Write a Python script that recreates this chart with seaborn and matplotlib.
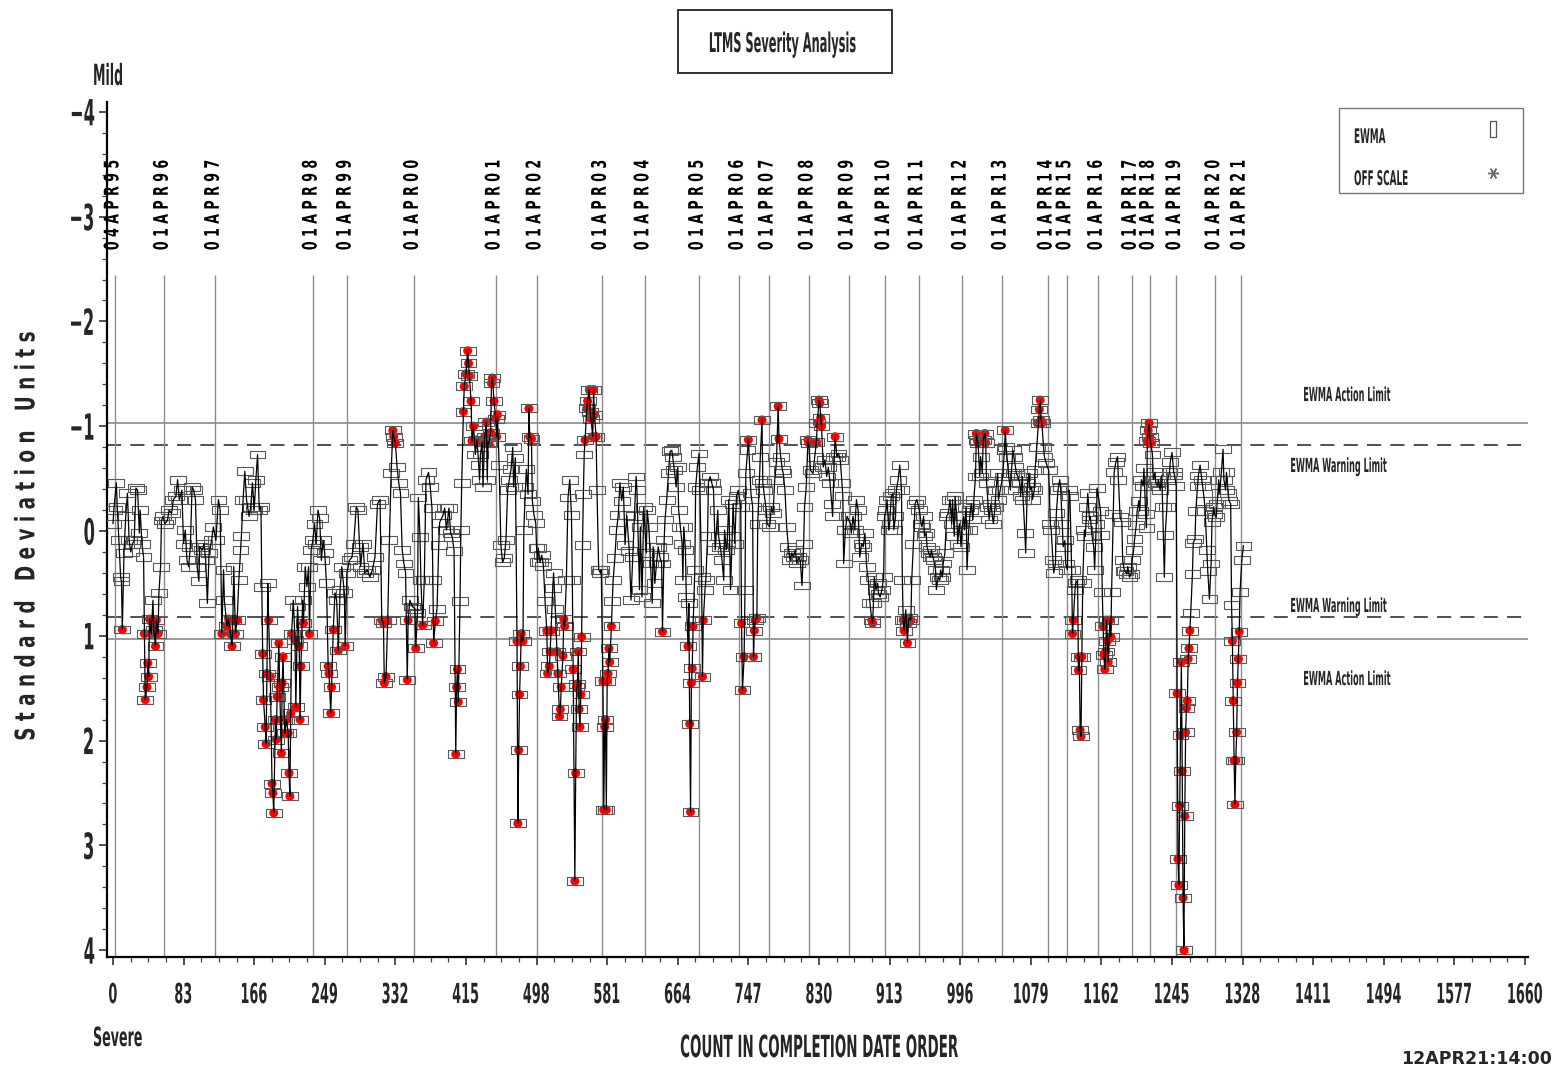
import numpy as np
import pandas as pd
import matplotlib
matplotlib.use("Agg")
import matplotlib.pyplot as plt
import seaborn as sns
from matplotlib.patches import Rectangle
from matplotlib.lines import Line2D
from matplotlib.patheffects import AbstractPathEffect
from matplotlib.transforms import Affine2D
from matplotlib.ticker import MultipleLocator

# ---------------------------------------------------------------- data
# test count (completion-date order) and EWMA value in standard deviation units
counts = [
    0, 1, 4, 5, 7, 9, 10, 11, 13, 15, 17, 19, 21, 23, 25, 27, 29, 31, 32, 34, 36, 37, 38, 40, 41, 42, 43, 45, 47, 48, 50, 51, 53, 54, 56, 57, 59,
    61, 64, 66, 69, 71, 74, 76, 78, 81, 83, 85, 87, 89, 91, 93, 95, 97, 99, 101, 102, 105, 107, 109, 111, 113, 116, 118, 121,
    124, 126, 128, 130, 131, 134, 136, 138, 140, 141, 142, 144, 146, 148, 150, 151, 153, 155, 157, 160, 162, 164, 166, 168, 170, 172, 174, 175, 176, 177,
    179, 180, 181, 182, 183, 185, 187, 188, 189, 191, 192, 193, 195, 196, 198, 199, 200, 202, 204, 206, 207, 208, 209, 210, 212, 214, 215, 217, 219, 220,
    221, 223, 224, 226, 228, 230, 231, 233, 235,
    237, 239, 241, 243, 245, 247, 249, 251, 253, 254, 256, 257, 259, 261, 263, 265, 267, 269, 272, 273, 275,
    278, 281, 283, 286, 288, 290, 291, 294, 296, 299, 302, 305, 308, 311, 314, 316, 318, 319, 321, 323,
    325, 327, 329, 330, 332, 334, 336, 338, 340, 342, 344, 346, 347, 349, 352,
    355, 356, 358, 359, 361, 362, 364, 366, 368, 371, 373, 375, 376, 377, 379, 381, 383, 384, 388, 390,
    392, 395, 397, 399, 401, 403, 404, 405, 406, 408, 409, 410, 412, 413, 415, 417, 418, 419, 421, 422,
    424, 426, 428, 430, 431, 432, 434, 435, 437, 439, 440, 441, 442, 444, 445, 446, 448, 450,
    451, 452, 454, 456, 458, 460, 462, 464, 466, 468, 470, 471, 473, 475, 476, 477, 478, 479, 480, 482,
    483, 485, 486, 488, 489, 490, 492, 493, 495, 497, 498,
    499, 500, 502, 504, 506, 508, 510, 511, 513, 514, 515, 517, 518, 520, 522, 523, 525, 526, 527, 529,
    530, 531, 533, 535, 537, 539, 540, 541, 543, 544, 545, 546, 547, 548, 549, 550, 551, 552, 553, 554,
    555, 557, 558, 560, 561, 562, 564, 565, 566, 568, 569, 571, 573, 574,
    576, 577, 578, 579, 580, 581, 582, 583, 584, 586, 587, 588, 590, 592, 594, 596, 598, 600, 602, 604,
    607, 609, 611, 613, 615, 616, 619, 620, 622, 624,
    627, 628, 630, 632, 634, 635, 637, 639, 641, 643, 645, 646, 648, 649, 651, 653, 655, 657, 658, 660,
    662, 664, 665, 667, 669, 670, 671, 673, 674, 676, 677, 678, 679, 680, 681, 682, 684, 685, 687, 689,
    690, 692, 693, 694, 696, 697, 699, 700, 702, 704, 706, 708, 711, 712, 714, 716, 718, 719, 721, 722,
    724, 726, 728, 729, 731, 733, 735,
    738, 739, 740, 742, 743, 744, 746, 747, 750, 752, 753, 754, 755, 757, 758, 760, 761, 763, 764, 765, 768, 769,
    772, 774, 776, 778, 780, 782, 783, 785, 787, 788, 790, 792, 794, 796, 798, 800, 802, 804, 806, 808,
    810, 812, 813, 815, 817, 818, 820,
    823, 825, 827, 828, 830, 831, 832, 833, 835, 837, 839, 841, 843, 845, 846, 848, 849, 851, 853, 855,
    857, 858, 859, 861, 863,
    867, 868, 870, 872, 874, 876, 878, 880, 882, 884, 886, 888, 890, 892, 893, 894, 895, 897, 899, 900,
    902, 904, 906, 907,
    909, 910, 912, 913, 915, 917, 918, 920, 921, 923, 925, 927, 928, 929, 930, 931, 932, 934, 935, 936,
    938, 939, 941, 943, 945,
    948, 950, 951, 953, 954, 956, 957, 959, 961, 962, 964, 965, 967, 968, 970, 972, 973, 975, 976, 978,
    980, 982, 984, 986, 987, 989, 990, 992, 993, 995, 997, 998,
    1000, 1001, 1003, 1004, 1006, 1008, 1009, 1011, 1012, 1014, 1015, 1016, 1017, 1019, 1020, 1022, 1023, 1025, 1026, 1027,
    1029, 1030, 1032, 1033, 1035, 1037, 1038, 1040, 1041, 1043,
    1046, 1048, 1049, 1050, 1051, 1053, 1055, 1056, 1058, 1059, 1061, 1062, 1064, 1066, 1067, 1069, 1070, 1072, 1073, 1075,
    1077, 1078, 1080, 1081, 1083, 1084, 1086, 1088, 1089, 1090, 1091, 1092, 1094, 1095, 1097,
    1100, 1102, 1103, 1105, 1106, 1108, 1109, 1111, 1113, 1114, 1116, 1117, 1119, 1120,
    1122, 1124, 1125, 1127, 1128, 1129, 1131, 1132, 1134, 1135, 1136, 1137, 1138, 1139, 1140, 1142, 1143, 1145, 1146, 1148,
    1149, 1151, 1153, 1154, 1156, 1157,
    1161, 1162, 1163, 1164, 1165, 1166, 1167, 1168, 1169, 1170, 1172, 1173, 1174, 1176, 1177, 1179, 1181, 1182, 1184, 1186,
    1187, 1189, 1190, 1192, 1193, 1195, 1197, 1198,
    1200, 1201, 1203, 1204, 1206, 1207, 1209, 1211, 1212, 1214, 1215, 1216, 1217, 1218, 1219, 1220, 1222, 1223, 1225, 1226,
    1228, 1229, 1231, 1233, 1234, 1236, 1237, 1239, 1240, 1242, 1243, 1245, 1247, 1248, 1250,
    1251, 1252, 1253, 1254, 1255, 1256, 1257, 1258, 1259, 1260, 1261, 1262, 1263, 1264, 1265, 1266, 1267, 1269, 1270, 1272,
    1273, 1275, 1276, 1278, 1280, 1281, 1283, 1284, 1286, 1287, 1289, 1291, 1292, 1294, 1295,
    1297, 1298, 1300, 1301, 1303, 1305, 1306, 1308, 1309, 1311, 1312, 1314, 1315, 1316, 1317, 1318, 1319, 1320, 1321, 1322,
    1323, 1324, 1325, 1327, 1329,
]

ewma = [
    -0.07, -0.20, -0.46, -0.23, 0.09, 0.44, 0.48, 0.94, 0.21, -0.14, -0.36, 0.09, 0.20, 0.12, 0.09, -0.41, -0.39, 0.02, -0.20, 0.12, 0.25, 0.98, 1.61, 1.49, 1.26, 1.39, 0.84, 0.98, 0.66, 0.94, 1.10, 0.85, 0.98, 0.59, 0.34, -0.10, -0.14,
    -0.07, -0.10, -0.20, -0.17, -0.30, -0.33, -0.49, -0.30, -0.39, 0.12, -0.01, 0.28, 0.34, 0.15, -0.42, -0.39, -0.30, 0.34, 0.48, 0.15, 0.18, 0.12, 0.28, 0.69, 0.21, 0.09, -0.04, 0.09,
    -0.30, -0.20, 0.98, 0.37, 0.66, 0.91, 0.84, 0.98, 1.10, 0.85, 0.34, 0.98, 0.85, 0.47, 0.18, 0.05, -0.30, -0.57, -0.30, -0.14, -0.23, -0.46, -0.20, -0.49, -0.73, -0.20, -0.23, 0.53, 1.17, 1.61,
    1.87, 2.03, 1.36, 0.50, 0.85, 1.39, 2.41, 2.50, 2.69, 1.80, 1.99, 1.58, 1.07, 1.49, 2.12, 1.45, 1.20, 1.93, 1.80, 1.93, 2.31, 2.53, 1.74, 0.98, 0.66, 1.04, 1.68, 0.72, 1.10, 1.80,
    1.29, 0.66, 0.88, 0.34, 0.53, 0.34, 0.98, 0.18, 0.09,
    -0.07, 0.12, -0.20, -0.12, 0.28, 0.09, 0.21, 0.50, 1.29, 1.36, 1.74, 1.49, 0.94, 0.59, 0.66, 1.14, 0.56, 0.34, 0.59, 1.10, 0.40,
    0.28, 0.25, 0.12, -0.23, -0.20, 0.15, 0.34, 0.12, 0.40, 0.37, 0.44, 0.37, 0.25, -0.26, -0.30, 0.85, 0.88, 1.45, 1.39, 0.85,
    0.09, -0.55, -0.96, -0.90, -0.84, -0.61, -0.46, -0.36, 0.18, 0.31, 0.40, 1.42, 0.85, 0.66, 0.72,
    0.74, 1.12, 0.78, -0.32, 0.06, 0.47, 0.90, 0.47, -0.49, -0.56, -0.42, -0.22, 0.47, 1.07, 0.86, 0.74, 0.13, -0.08, -0.15, -0.22,
    -0.01, -0.22, 0.02, 0.06, 0.19, 2.13, 1.49, 1.32, 1.63, 0.67, -0.01, -0.46, -1.14, -1.38, -1.50, -1.72, -1.60, -1.48, -1.24, -0.86,
    -1.00, -0.73, -0.87, -0.63, -0.49, -0.73, -0.85, -0.42, -0.90, -1.04, -0.49, -0.85, -0.84, -0.94, -1.41, -1.46, -1.24, -1.07,
    -0.90, -1.11, -0.63, 0.13, 0.30, 0.26, 0.09, -0.39, -0.49, -0.59, -0.80, -0.42, -0.70, 1.05, 2.79, 2.09, 1.56, 1.29, 0.98, 1.05,
    -0.01, -0.42, -0.59, -0.35, -1.17, -0.90, -0.88, -0.29, -0.15, -0.08, 0.16,
    0.30, 0.16, 0.30, 0.23, 0.33, 0.67, 0.95, 1.36, 1.29, 1.15, 0.95, 0.54, 0.40, 0.74, 1.15, 1.36, 1.77, 1.70, 1.49, 1.19,
    0.84, 0.91, 0.47, -0.32, -0.49, -0.15, 0.47, 1.32, 3.34, 2.31, 1.49, 1.46, 1.15, 1.70, 1.87, 1.56, 1.01, 0.13, -0.35, -0.73,
    -0.87, -1.17, -1.24, -1.35, -1.14, -1.07, -0.90, -1.35, -1.11, -0.90, -0.39, 0.37, 0.40, 0.37,
    1.43, 2.66, 1.87, 1.80, 2.66, 1.43, 1.36, 1.12, 1.25, 0.91, 0.67, 0.47, 0.26, -0.01, -0.15, -0.46, -0.29, -0.42, 0.13, -0.15,
    0.19, 0.66, 0.25, -0.14, -0.52, -0.39, 0.56, -0.04, 0.63, -0.23,
    0.21, -0.20, -0.04, 0.31, 0.69, 0.15, 0.50, 0.31, 0.15, 0.25, 0.31, 0.96, 0.09, -0.11, -0.30, -0.55, -0.76, -0.77, -0.71, -0.58,
    -0.42, -0.61, -0.20, -0.04, 0.12, 0.47, -0.04, 0.18, 0.63, 1.10, 0.69, 1.84, 2.68, 1.45, 1.31, 0.91, 0.37, -0.42, -0.61, -0.74,
    -0.39, 0.44, 1.39, 0.85, 0.56, 0.47, 0.05, -0.46, -0.52, -0.46, -0.39, 0.18, -0.20, 0.05, 0.15, 0.28, 0.47, -0.01, 0.18, 0.12,
    -0.30, 0.56, 0.05, -0.26, 0.12, -0.33, -0.39,
    -0.23, 0.88, 1.52, 1.20, 0.56, -0.55, -0.77, -0.87, -0.36, -0.23, 1.20, 0.95, 0.85, 0.83, -0.07, -0.49, -0.71, -1.06, -0.46, -0.39, -0.20, -0.07,
    -0.04, -0.23, -0.17, -0.49, -0.66, -1.19, -0.88, -0.71, -0.58, -0.55, -0.39, -0.04, 0.15, 0.28, 0.21, 0.25, 0.18, 0.31, 0.25, 0.28,
    0.52, 0.12, -0.23, -0.42, -0.87, -0.84, -0.58,
    -0.55, -0.71, -0.85, -1.03, -1.25, -1.22, -1.08, -1.00, -0.61, -0.68, -0.52, -0.61, -0.46, -0.26, -0.14, -0.71, -0.90, -0.71, -0.74, -0.68,
    -0.46, -0.33, 0.31, -0.01, -0.14,
    -0.07, 0.02, -0.14, -0.01, -0.30, -0.20, 0.25, 0.12, 0.15, 0.02, 0.34, 0.47, 0.69, 0.85, 0.88, 0.69, 0.44, 0.56, 0.50, 0.60,
    0.63, 0.56, 0.44, -0.14,
    -0.20, -0.30, -0.01, -0.07, -0.33, -0.36, -0.01, -0.14, -0.39, -0.49, -0.63, -0.39, 0.47, 0.85, 0.95, 0.85, 0.75, 1.07, 0.88, 0.83,
    0.85, 0.47, 0.12, -0.26, -0.30,
    -0.20, -0.07, -0.04, -0.14, 0.05, 0.02, 0.15, 0.21, 0.25, 0.18, 0.25, 0.28, 0.37, 0.56, 0.44, 0.47, 0.37, 0.44, 0.31, 0.21,
    -0.14, -0.17, -0.30, -0.07, -0.30, 0.05, -0.33, -0.14, 0.12, -0.07, 0.15, -0.01,
    -0.14, -0.01, -0.23, 0.37, -0.01, -0.20, -0.26, -0.11, -0.30, -0.52, -0.93, -0.87, -0.84, -0.52, -0.71, -0.55, -0.87, -0.93, -0.84, -0.46,
    -0.23, -0.11, -0.26, -0.20, -0.07, -0.23, -0.39, -0.55, -0.30, -0.39,
    -0.52, -0.77, -0.96, -0.80, -0.71, -0.52, -0.39, -0.55, -0.77, -0.71, -0.61, -0.55, -0.52, -0.46, -0.33, -0.52, -0.30, 0.02, 0.21, -0.46,
    -0.55, -0.39, -0.42, -0.30, -0.39, -0.58, -0.80, -1.03, -1.16, -1.25, -1.06, -1.03, -0.80, -0.71, -0.65,
    -0.58, -0.07, -0.01, 0.28, 0.40, 0.31, -0.17, -0.39, -0.49, -0.42, -0.07, 0.15, 0.09, 0.31,
    0.37, -0.39, -0.33, 0.37, 0.98, 0.85, 0.56, 0.50, 0.47, 1.33, 1.20, 1.90, 1.96, 1.20, 0.50, -0.01, 0.05, -0.23, -0.36, -0.11,
    -0.14, 0.05, 0.15, 0.37, -0.07, -0.41,
    -0.19, 0.04, 0.58, 0.91, 1.18, 1.32, 1.15, 0.85, 1.05, 1.25, 0.85, 1.01, 0.58, -0.16, -0.56, -0.66, -0.71, -0.49, -0.13, -0.09,
    0.28, 0.38, 0.38, 0.41, 0.34, 0.44, 0.41, 0.28,
    0.18, 0.08, -0.06, -0.19, -0.29, -0.19, -0.49, -0.43, -0.60, -0.16, -0.03, -0.86, -0.96, -1.03, -0.90, -0.84, -0.73, -0.49, -0.56, -0.46,
    -0.43, -0.49, -0.39, -0.53, -0.23, 0.44, 0.04, -0.23, -0.49, -0.56, -0.66, -0.75, -0.56, -0.53, -0.43,
    1.55, 3.13, 3.38, 2.62, 1.95, 1.25, 2.29, 3.50, 4.00, 2.72, 1.92, 1.69, 1.62, 1.22, 1.12, 0.95, 0.78, 0.41, 0.11, 0.08,
    -0.19, -0.43, -0.53, -0.63, -0.49, -0.43, -0.29, -0.19, 0.18, 0.38, 0.65, 0.31, -0.09, -0.23, -0.16,
    -0.13, -0.26, -0.49, -0.36, -0.56, -0.78, -0.49, -0.39, -0.56, -0.36, -0.29, -0.26, 0.71, 1.05, 1.62, 2.19, 2.61, 2.19, 1.92, 1.45,
    1.22, 0.96, 0.58, 0.28, 0.14,
]
assert len(counts) == len(ewma)

# first test of each reference period and its date tag
year_starts = [2, 60, 120, 235, 275, 354, 450, 498, 575, 625, 689, 736, 771, 818,
               865, 908, 947, 998, 1045, 1099, 1121, 1158, 1198, 1219, 1250, 1296, 1326]
year_tags = ["04APR95", "01APR96", "01APR97", "01APR98", "01APR99", "01APR00", "01APR01",
             "01APR02", "01APR03", "01APR04", "01APR05", "01APR06", "01APR07", "01APR08",
             "01APR09", "01APR10", "01APR11", "01APR12", "01APR13", "01APR14", "01APR15",
             "01APR16", "01APR17", "01APR18", "01APR19", "01APR20", "01APR21"]

action_limit = 1.03
warning_limit = 0.82
x_ticks = list(range(0, 1661, 83))
y_ticks = list(range(-4, 5))
off_scale = 4.0


# ---------------------------------------------------------------- helpers
class Reshape(AbstractPathEffect):
    """Draw text glyphs rescaled along (sx) and across (sy) the writing
    direction, giving tall narrow lettering."""

    def __init__(self, sx, sy=1.0, anchor_x="center", anchor_y="baseline"):
        super().__init__()
        self.sx, self.sy = sx, sy
        self.anchor_x, self.anchor_y = anchor_x, anchor_y

    def draw_path(self, renderer, gc, tpath, affine, rgbFace=None):
        v = tpath.vertices
        if v.size:
            x0, x1 = v[:, 0].min(), v[:, 0].max()
            y0, y1 = max(v[:, 1].min(), 0.0), v[:, 1].max()
        else:
            x0 = x1 = y0 = y1 = 0.0
        cx = {"left": x0, "right": x1}.get(self.anchor_x, 0.5 * (x0 + x1))
        cy = {"top": y1, "center": 0.5 * (y0 + y1)}.get(self.anchor_y, 0.0)
        t = Affine2D().translate(-cx, -cy).scale(self.sx, self.sy).translate(cx, cy)
        renderer.draw_path(gc, tpath, t + affine, rgbFace)


sns.set_style("ticks")
plt.rcParams["font.family"] = ["DejaVu Sans"]

W, H = 1554, 1065
fig = plt.figure(figsize=(W / 100, H / 100), dpi=100)
fig.patch.set_facecolor("white")


def fx(px):
    return px / W


def fy(py):
    return 1 - py / H


ax = fig.add_axes([fx(107), fy(957), (1528 - 107) / W, (957 - 102) / H])
ax.set_facecolor("white")

df = pd.DataFrame({"count": counts, "ewma": ewma})
beyond = df[df["ewma"].abs() > warning_limit]
clipped = df[df["ewma"].abs() >= off_scale]

# limit lines
for lim in (-action_limit, action_limit):
    ax.axhline(lim, color="#808080", lw=1.1, zorder=1)
for lim in (-warning_limit, warning_limit):
    ax.axhline(lim, color="#333333", lw=1.2, dashes=(8.5, 5.5), zorder=1)

# reference-period boundaries
ax.vlines(year_starts, -2.44, 4.2, color="#8c8c8c", lw=1.0, zorder=1)
for x, tag in zip(year_starts, year_tags):
    ax.text(x - 3, -2.68, " ".join(tag), rotation=90, ha="center", va="bottom",
            fontsize=10, fontweight="bold", color="black",
            path_effects=[Reshape(0.91, 1.45, "left", "center")])

# EWMA points and trace
rect_marker = [(-1, -0.5), (1, -0.5), (1, 0.5), (-1, 0.5), (-1, -0.5)]
sns.scatterplot(data=beyond, x="count", y="ewma", ax=ax, marker="o", s=42,
                color="#ff0000", edgecolor="none", linewidth=0, zorder=3, legend=False)
sns.scatterplot(data=df, x="count", y="ewma", ax=ax, marker=rect_marker, s=130,
                facecolor="none", edgecolor="#5a5a5a", linewidth=0.8, zorder=3.5, legend=False)
sns.lineplot(data=df, x="count", y="ewma", ax=ax, estimator=None, sort=False,
             color="black", linewidth=0.9, zorder=4, legend=False)
sns.scatterplot(data=clipped, x="count", y="ewma", ax=ax, marker=(6, 2, 0), s=30,
                color="#ff0000", linewidth=0.9, zorder=5, legend=False)

# limit captions
cap_kw = dict(ha="center", va="baseline", fontsize=14, fontweight="bold",
              path_effects=[Reshape(0.42)])
ax.text(1451, -1.24, "EWMA Action Limit", **cap_kw)
ax.text(1441, -0.563, "EWMA Warning Limit", **cap_kw)
ax.text(1441, 0.773, "EWMA Warning Limit", **cap_kw)
ax.text(1451, 1.47, "EWMA Action Limit", **cap_kw)

# axes
ax.set_xlim(-7, 1663.5)
ax.set_ylim(4.065, -4.094)
ax.set_xticks(x_ticks)
ax.set_yticks(y_ticks)
ax.xaxis.set_minor_locator(MultipleLocator(20.75))
ax.yaxis.set_minor_locator(MultipleLocator(0.2))
ax.tick_params(axis="both", which="major", direction="out", length=6, width=1.1, color="#222222")
ax.tick_params(axis="both", which="minor", direction="out", length=3.5, width=0.9, color="#444444")
ax.tick_params(axis="x", which="major", labelsize=14, pad=12)
ax.tick_params(axis="y", which="major", labelsize=26, pad=2)
for t in ax.get_xticklabels():
    t.set_fontweight("bold")
    t.set_path_effects([Reshape(0.66, 1.42, "center", "top")])
for t in ax.get_yticklabels():
    t.set_fontweight("bold")
    t.set_path_effects([Reshape(0.45, 1.0, "right")])

sns.despine(ax=ax)
for side in ("left", "bottom"):
    ax.spines[side].set_color("black")
    ax.spines[side].set_linewidth(1.6)

ax.set_xlabel("COUNT IN COMPLETION DATE ORDER", fontsize=22, fontweight="bold",
              path_effects=[Reshape(0.44)])
ax.xaxis.set_label_coords(0.5004, -0.117)
ax.xaxis.label.set_va("baseline")

ax.set_ylabel("S t a n d a r d   D e v i a t i o n   U n i t s", fontsize=19.5,
              fontweight="bold", path_effects=[Reshape(0.68)])
ax.yaxis.set_label_coords(-0.056, 0.4936)
ax.yaxis.label.set_va("center")

# severity direction words
fig.text(fx(93), fy(85), "Mild", ha="left", va="baseline", fontsize=21,
         fontweight="bold", path_effects=[Reshape(0.43, 1.0, "left")])
fig.text(fx(93), fy(1046), "Severe", ha="left", va="baseline", fontsize=19,
         fontweight="bold", path_effects=[Reshape(0.48, 1.0, "left")])

# boxed title
fig.add_artist(Rectangle((fx(678), fy(73)), (892 - 678) / W, (73 - 10) / H,
                         transform=fig.transFigure, fill=False, ec="#333333", lw=1.4))
fig.text(fx(783), fy(52), "LTMS Severity Analysis", ha="center", va="baseline",
         fontsize=19.5, fontweight="bold", path_effects=[Reshape(0.42)])

# key box
fig.add_artist(Rectangle((fx(1339), fy(193)), (1523 - 1339) / W, (193 - 108) / H,
                         transform=fig.transFigure, fill=False, ec="#777777", lw=1.0))
fig.text(fx(1354), fy(143), "EWMA", ha="left", va="baseline", fontsize=14.5,
         fontweight="bold", path_effects=[Reshape(0.44, 1.0, "left")])
fig.text(fx(1354), fy(185), "OFF SCALE", ha="left", va="baseline", fontsize=14.5,
         fontweight="bold", path_effects=[Reshape(0.44, 1.0, "left")])
tall_marker = [(-0.4, -1), (0.4, -1), (0.4, 1), (-0.4, 1), (-0.4, -1)]
fig.add_artist(Line2D([fx(1492.5)], [fy(129)], transform=fig.transFigure, ls="none",
                      marker=tall_marker, ms=11.5, mfc="none", mec="#555555", mew=0.9))
fig.add_artist(Line2D([fx(1492.5)], [fy(173)], transform=fig.transFigure, ls="none",
                      marker=(6, 2, 90), ms=8, mec="#666666", mew=1.0))

# run stamp
fig.text(fx(1552), fy(1064), "12APR21:14:00", ha="right", va="baseline",
         fontsize=12.5, fontweight="bold")

fig.savefig("out.png", dpi=100, facecolor="white")
